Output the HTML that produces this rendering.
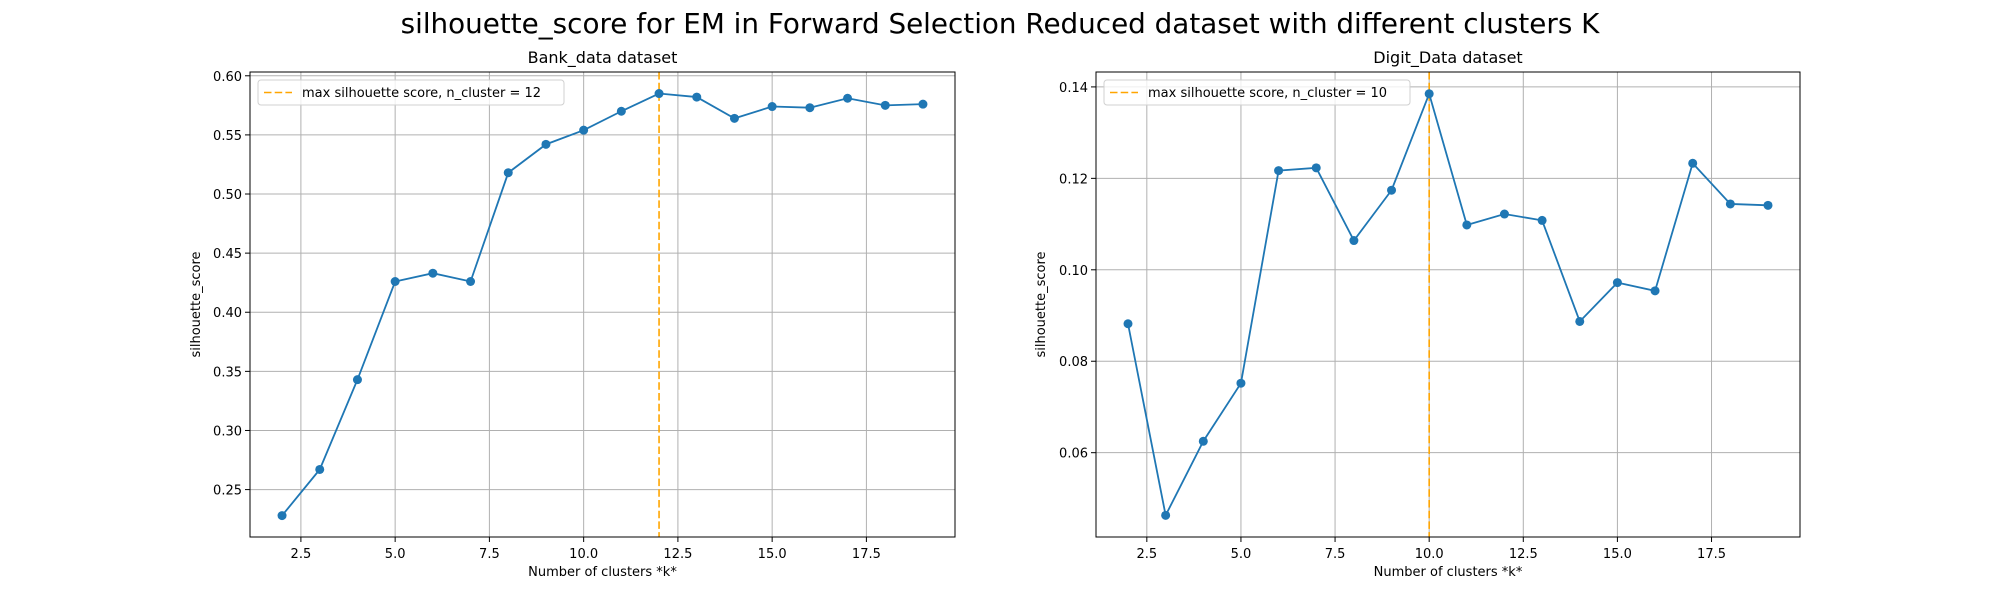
<!DOCTYPE html>
<html><head><meta charset="utf-8"><style>
html,body{margin:0;padding:0;background:#fff;}
svg{display:block;font-family:"DejaVu Sans","Liberation Sans",sans-serif;}
</style></head><body>
<svg id="fig" width="2000" height="600" viewBox="0 0 2000 600" xmlns="http://www.w3.org/2000/svg">
<text x="1000" y="33" font-size="27.8" text-anchor="middle" fill="#000">silhouette_score for EM in Forward Selection Reduced dataset with different clusters K</text>
</svg>
<script>
const ks = [2,3,4,5,6,7,8,9,10,11,12,13,14,15,16,17,18,19];
const bankScores = [0.228,0.267,0.343,0.426,0.433,0.426,0.518,0.542,0.554,0.570,0.585,0.582,0.564,0.574,0.573,0.581,0.575,0.576];
const digitScores = [0.0882,0.0463,0.0625,0.0752,0.1217,0.1223,0.1064,0.1174,0.1385,0.1098,0.1122,0.1108,0.0887,0.0972,0.0954,0.1233,0.1144,0.1141];
const xTicks = [2.5,5.0,7.5,10.0,12.5,15.0,17.5];
const bankYTicks = [0.25,0.30,0.35,0.40,0.45,0.50,0.55,0.60];
const digitYTicks = [0.06,0.08,0.10,0.12,0.14];
const bankBest = 12, digitBest = 10;

const NS="http://www.w3.org/2000/svg";
const svg=document.getElementById('fig');
function mk(tag,attrs,parent){const e=document.createElementNS(NS,tag);for(const k in attrs)e.setAttribute(k,attrs[k]);(parent||svg).appendChild(e);return e;}

function panel(opts){
  const {L,R,T,B,ymin,ymax,yTicks,yDec,vals,best,title,key}=opts;
  const xmin=1.15,xmax=19.85;
  const sx=v=>L+(v-xmin)/(xmax-xmin)*(R-L);
  const sy=v=>B-(v-ymin)/(ymax-ymin)*(B-T);
  const g=mk('g',{});
  
  
  xTicks.forEach(t=>{
    const l=mk('line',{x1:sx(t),x2:sx(t),y1:T,y2:B,stroke:'#b0b0b0','stroke-width':1},g);
    
    
    mk('line',{x1:sx(t),x2:sx(t),y1:B,y2:B+5,stroke:'#000','stroke-width':1},g);
    const tx=mk('text',{x:sx(t),y:B+21,'font-size':13,'text-anchor':'middle'},g);
    tx.textContent=t.toFixed(1);
    
    
  });
  yTicks.forEach(t=>{
    const l=mk('line',{x1:L,x2:R,y1:sy(t),y2:sy(t),stroke:'#b0b0b0','stroke-width':1},g);
    
    
    mk('line',{x1:L-5,x2:L,y1:sy(t),y2:sy(t),stroke:'#000','stroke-width':1},g);
    const tx=mk('text',{x:L-8,y:sy(t)+5,'font-size':13,'text-anchor':'end'},g);
    tx.textContent=t.toFixed(yDec);
    
    
  });
  const vl=mk('line',{x1:sx(best),x2:sx(best),y1:T,y2:B,stroke:'#ffa500','stroke-width':1.6,'stroke-dasharray':'7.5,3.2'},g);
  
  
  const pts=ks.map((k,i)=>sx(k)+','+sy(vals[i])).join(' ');
  const pl=mk('polyline',{points:pts,fill:'none',stroke:'#1f77b4','stroke-width':1.8},g);
  
  
  ks.forEach((k,i)=>{
    const c=mk('circle',{cx:sx(k),cy:sy(vals[i]),r:4.5,fill:'#1f77b4'},g);
    
    
  });
  const fr=mk('rect',{x:L,y:T,width:R-L,height:B-T,fill:'none',stroke:'#000','stroke-width':1},g);
  
  
  const tt=mk('text',{x:(L+R)/2,y:63,'font-size':16,'text-anchor':'middle'},g);
  tt.textContent=title;
  
  
  const xl=mk('text',{x:(L+R)/2,y:576,'font-size':13,'text-anchor':'middle'},g);
  xl.textContent='Number of clusters *k*';
  
  
  const yx=opts.ylabX;
  const yl=mk('text',{x:yx,y:(T+B)/2,'font-size':13,'text-anchor':'middle',transform:`rotate(-90 ${yx} ${(T+B)/2})`},g);
  yl.textContent='silhouette_score';
  
  
  const lg=mk('g',{},g);
  
  
  mk('rect',{x:L+8,y:80,width:306,height:25,rx:3,fill:'#fff','fill-opacity':0.8,stroke:'#d0d0d0'},lg);
  mk('line',{x1:L+14,x2:L+42,y1:92.5,y2:92.5,stroke:'#ffa500','stroke-width':1.6,'stroke-dasharray':'7.5,3.2'},lg);
  const lt=mk('text',{x:L+52,y:97,'font-size':13},lg);
  lt.textContent='max silhouette score, n_cluster = '+best;
}
panel({L:250,R:955,T:72,B:537,ymin:0.2099,ymax:0.6032,yTicks:bankYTicks,yDec:2,vals:bankScores,best:bankBest,title:'Bank_data dataset',key:'bank',ylabX:200});
panel({L:1096,R:1800,T:72,B:537,ymin:0.04156,ymax:0.14326,yTicks:digitYTicks,yDec:2,vals:digitScores,best:digitBest,title:'Digit_Data dataset',key:'digit',ylabX:1045});
</script>
</body></html>
